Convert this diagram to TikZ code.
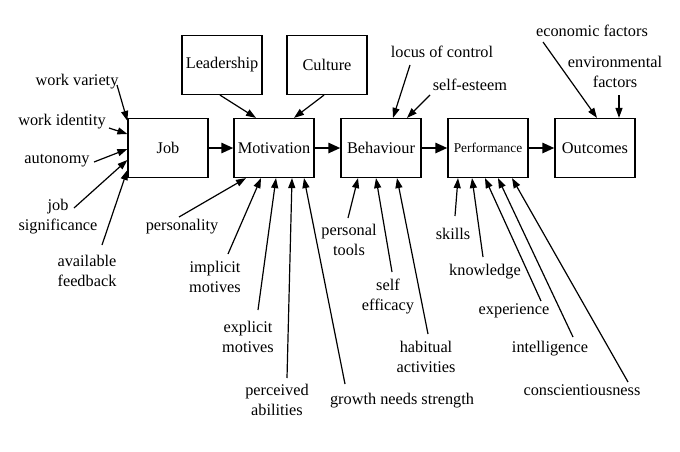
\documentclass[tikz,border=0pt]{standalone}
\usepackage{fontspec}
\setmainfont{Liberation Serif}
\usetikzlibrary{arrows.meta,calc}
\begin{document}
\begin{tikzpicture}[x=1pt,y=-1pt,
  box/.style={draw,line width=1.2pt,minimum width=80pt,minimum height=59pt,inner sep=0pt,font=\rmfamily\fontsize{16.3}{20}\selectfont},
  lab/.style={inner sep=0pt,align=center,font=\rmfamily\fontsize{16.3}{20}\selectfont},
  thinarr/.style={line width=1.2pt,-{Triangle[length=10pt,width=7pt]}},
  thickarr/.style={line width=2.6pt,-{Triangle[length=12pt,width=10pt]}}]
\useasboundingbox[fill=white] (0,0) rectangle (680,452);
% boxes
\node[box] (job) at (168,148) {Job};
\node[box] (mot) at (274,148) {Motivation};
\node[box] (beh) at (381,148) {Behaviour};
\node[box,font=\rmfamily\fontsize{13.4}{16}\selectfont] (perf) at (488,148) {Performance};
\node[box] (out) at (595,148) {Outcomes};
\node[box] (lead) at (222,65) {Leadership};
\node[box] (cult) at (327,65) {Culture};
% main chain
\draw[thickarr] (job) -- (mot);
\draw[thickarr] (mot) -- (beh);
\draw[thickarr] (beh) -- (perf);
\draw[thickarr] (perf) -- (out);
\draw[thinarr] ($(lead.south)+(-2,0)$) -- ($(mot.north)+(-18,0)$);
\draw[thinarr] ($(cult.south)+(-3,0)$) -- ($(mot.north)+(20,0)$);
% labels
\node[lab] (lwv) at (77,82) {work variety};
\node[lab] (lwi) at (62,122) {work identity};
\node[lab] (lau) at (57,161) {autonomy};
\node[lab] (ljs) at (58,217) {job\\significance};
\node[lab] (laf) at (87,271) {available\\feedback};
\node[lab] (lpe) at (182,227) {personality};
\node[lab] (lim) at (215,277) {implicit\\motives};
\node[lab] (lem) at (248,337) {explicit\\motives};
\node[lab] (lpa) at (277,400) {perceived\\abilities};
\node[lab] (lgn) at (402,401) {growth needs strength};
\node[lab] (lpt) at (349,240) {personal\\tools};
\node[lab] (lse) at (388,297) {self\\efficacy};
\node[lab] (lha) at (426,357) {habitual\\activities};
\node[lab] (lsk) at (453,234) {skills};
\node[lab] (lkn) at (485,272) {knowledge};
\node[lab] (lex) at (514,311) {experience};
\node[lab] (lin) at (550,349) {intelligence};
\node[lab] (lco) at (582,390) {conscientiousness};
\node[lab] (llc) at (442,52) {locus of control};
\node[lab] (lst) at (470,85) {self-esteem};
\node[lab] (lec) at (592,31) {economic factors};
\node[lab] (len) at (615,72) {environmental\\factors};
% start points
\coordinate (swv) at (117,85);
\coordinate (swi) at (109,128);
\coordinate (sau) at (94,162);
\coordinate (sjs) at (74,208);
\coordinate (saf) at (102,245);
\coordinate (spe) at (179,217);
\coordinate (sim) at (228,254);
\coordinate (sem) at (258,310);
\coordinate (spa) at (287,378);
\coordinate (sgn) at (345,384);
\coordinate (spt) at (348,218);
\coordinate (sse) at (392,272);
\coordinate (sha) at (428,334);
\coordinate (ssk) at (455,216);
\coordinate (skn) at (483,257);
\coordinate (sex) at (541,301);
\coordinate (sin) at (573,337);
\coordinate (sco) at (628,382);
\coordinate (slc) at (410,65);
\coordinate (sst) at (430,95);
\coordinate (sec) at (543,42);
\coordinate (sen) at (619,95);
% job inputs
\draw[thinarr] (swv) -- ($(job.north west)+(0,3)$);
\draw[thinarr] (swi) -- ($(job.west)+(0,-14)$);
\draw[thinarr] (sau) -- ($(job.west)+(0,1)$);
\draw[thinarr] (sjs) -- ($(job.west)+(0,12)$);
\draw[thinarr] (saf) -- ($(job.west)+(0,22)$);
% motivation inputs
\draw[thinarr] (spe) -- ($(mot.south)+(-28,0)$);
\draw[thinarr] (sim) -- ($(mot.south)+(-13,0)$);
\draw[thinarr] (sem) -- ($(mot.south)+(2,0)$);
\draw[thinarr] (spa) -- ($(mot.south)+(18,0)$);
\draw[thinarr] (sgn) -- ($(mot.south)+(30,0)$);
% behaviour inputs
\draw[thinarr] (spt) -- ($(beh.south)+(-23,0)$);
\draw[thinarr] (sse) -- ($(beh.south)+(-5,0)$);
\draw[thinarr] (sha) -- ($(beh.south)+(16,0)$);
\draw[thinarr] (slc) -- ($(beh.north)+(12,0)$);
\draw[thinarr] (sst) -- ($(beh.north)+(26,0)$);
% performance inputs
\draw[thinarr] (ssk) -- ($(perf.south)+(-30,0)$);
\draw[thinarr] (skn) -- ($(perf.south)+(-16,0)$);
\draw[thinarr] (sex) -- ($(perf.south)+(-3,0)$);
\draw[thinarr] (sin) -- ($(perf.south)+(10,0)$);
\draw[thinarr] (sco) -- ($(perf.south)+(24,0)$);
% outcomes inputs
\draw[thinarr] (sec) -- ($(out.north)+(2,0)$);
\draw[thinarr] (sen) -- ($(out.north)+(24,0)$);
\end{tikzpicture}
\end{document}
